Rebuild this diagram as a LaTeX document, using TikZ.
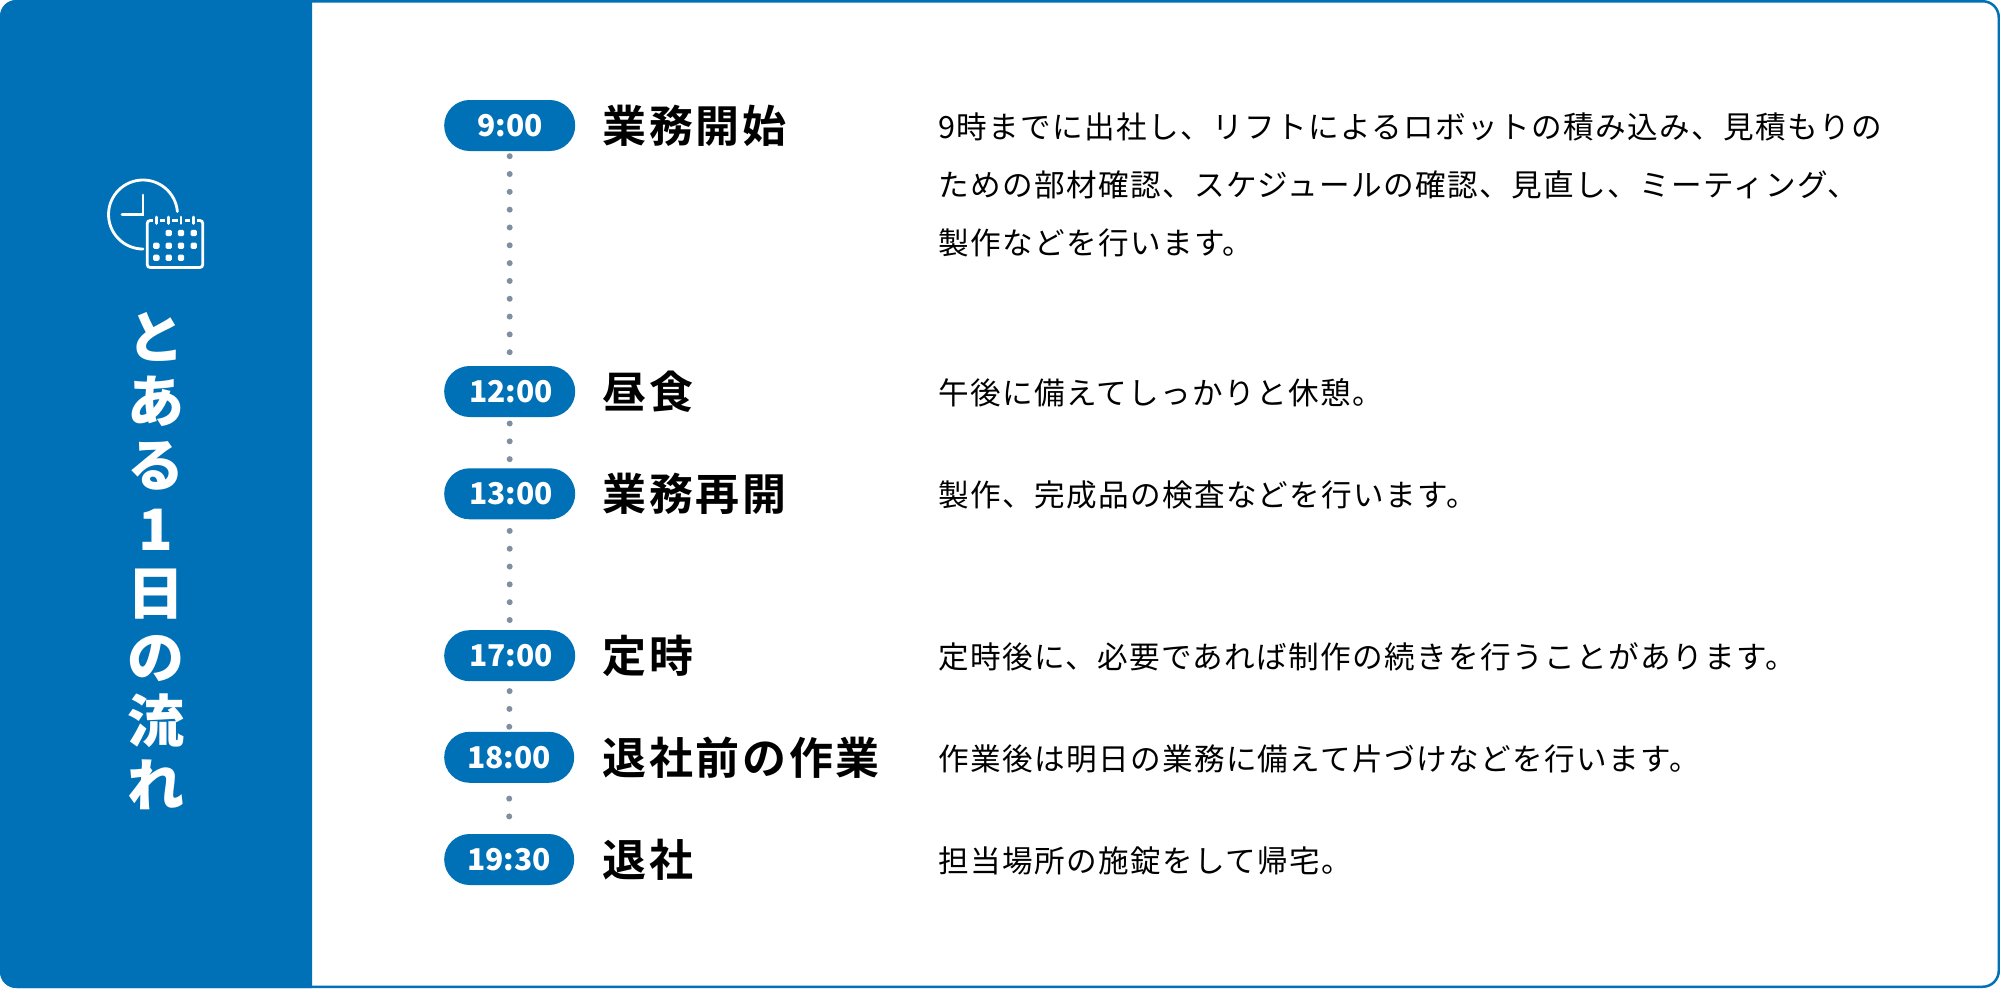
\documentclass[tikz,border=0pt]{standalone}
\usepackage{fontspec}
\setmainfont{Noto Sans CJK JP}
\newfontfamily\bodyfont[LetterSpace=4.5]{Noto Sans CJK JP}
\newfontfamily\headfont[BoldFont=Noto Sans CJK JP Bold,LetterSpace=6]{Noto Sans CJK JP}
\definecolor{brand}{HTML}{0071B7}
\definecolor{dotgray}{HTML}{808FA0}
\tikzset{
  x=1pt,y=-1pt,
  pill/.style={fill=brand,rounded corners=25.4pt,minimum height=51pt,inner sep=0pt,text=white,font=\fontsize{30}{30}\selectfont\bfseries},
  headtext/.style={anchor=west,inner sep=0pt,font=\fontsize{44}{44}\selectfont\headfont\bfseries},
  bodytext/.style={anchor=west,inner sep=0pt,font=\fontsize{30.6}{30.6}\selectfont\bodyfont},
  dots/.style={dotgray,line width=6pt,line cap=round,dash pattern=on 0pt off 17.82pt},
  icon/.style={white,line width=2.8pt,line cap=round},
}
\begin{document}
\begin{tikzpicture}
\useasboundingbox (0,0) rectangle (2000,988);
\fill[white] (0,0) rectangle (2000,988);
\draw[brand,line width=2.5pt,rounded corners=16pt] (1.25,1.25) rectangle (1998.75,986.75);
\fill[brand] (16,0) -- (312,0) -- (312,988) -- (16,988) arc[start angle=90,end angle=180,radius=16] -- (0,16) arc[start angle=180,end angle=270,radius=16] -- cycle;
% icon
\draw[icon] (177.4,211.5) arc[start angle=-5,end angle=-270,radius=34.5];
\draw[icon,line join=miter] (143,195) -- (143,214.5) -- (122,214.5);
\draw[icon,fill=brand,rounded corners=3pt] (147.2,220.5) rectangle (202.8,267.5);
\foreach \x in {156.3,168.7,181,193.7}{
  \draw[brand,line width=7pt] (\x,215)--(\x,225);
  \draw[white,line width=2.6pt,line cap=round] (\x,217)--(\x,223.5);
}
\foreach \x in {168.7,181,193.7}{\fill[white,rounded corners=1.5pt] (\x-3.2,229.8) rectangle ++(6.4,6.4);}
\foreach \x in {156.3,168.7,181,193.7}{\fill[white,rounded corners=1.5pt] (\x-3.2,242.5) rectangle ++(6.4,6.4);}
\foreach \x in {156.3,168.7,181}{\fill[white,rounded corners=1.5pt] (\x-3.2,254.5) rectangle ++(6.4,6.4);}
\node[text=white,align=center,inner sep=0pt,font=\fontsize{57}{64}\selectfont\bfseries] (side) at (156.3,561) {と\\あ\\る\\1\\日\\の\\流\\れ};
% pills
\foreach \n/\t/\y/\w/\cx/\k in {a/9:00/125.5/131/509.7/1,b/12:00/391.5/131/509.7/3,c/13:00/493.8/131/509.7/3,d/17:00/655.7/131/509.7/3,e/18:00/757.3/130/509.2/0,f/19:30/859.5/130/509.2/0}{
  \node[pill,minimum width=\w pt] (\n) at (\cx,\y) {\hspace{\k pt}\raisebox{-1pt}{\t}};
}
\node[headtext] (ha) at (602.5,125.5) {業務開始};
\node[headtext] (hb) at (602.5,391.5) {昼食};
\node[headtext] (hc) at (602.5,493.8) {業務再開};
\node[headtext] (hd) at (602.5,655.7) {定時};
\node[headtext] (he) at (602.5,757.3) {退社前の作業};
\node[headtext] (hf) at (602.5,859.5) {退社};
\node[bodytext] (ba1) at (938,127) {9時までに出社し、リフトによるロボットの積み込み、見積もりの};
\node[bodytext] (ba2) at (938,185) {ための部材確認、スケジュールの確認、見直し、ミーティング、};
\node[bodytext] (ba3) at (938,243) {製作などを行います。};
\node[bodytext] (bb) at (938,393) {午後に備えてしっかりと休憩。};
\node[bodytext] (bc) at (938,495.3) {製作、完成品の検査などを行います。};
\node[bodytext] (bd) at (938,657.2) {定時後に、必要であれば制作の続きを行うことがあります。};
\node[bodytext] (be) at (938,758.8) {作業後は明日の業務に備えて片づけなどを行います。};
\node[bodytext] (bf) at (938,861) {担当場所の施錠をして帰宅。};
\draw[dots,shorten <=5pt,shorten >=13.5pt] (a.south) -- (b.north);
\draw[dots,shorten <=6.3pt,shorten >=8.5pt] (b.south) -- (c.north);
\draw[dots,shorten <=11.4pt,shorten >=10pt] (c.south) -- (d.north);
\draw[dots,shorten <=9.7pt,shorten >=4.5pt] (d.south) -- (e.north);
\draw[dots,shorten <=15.6pt,shorten >=17pt] (e.south) -- (f.north);
\end{tikzpicture}
\end{document}
